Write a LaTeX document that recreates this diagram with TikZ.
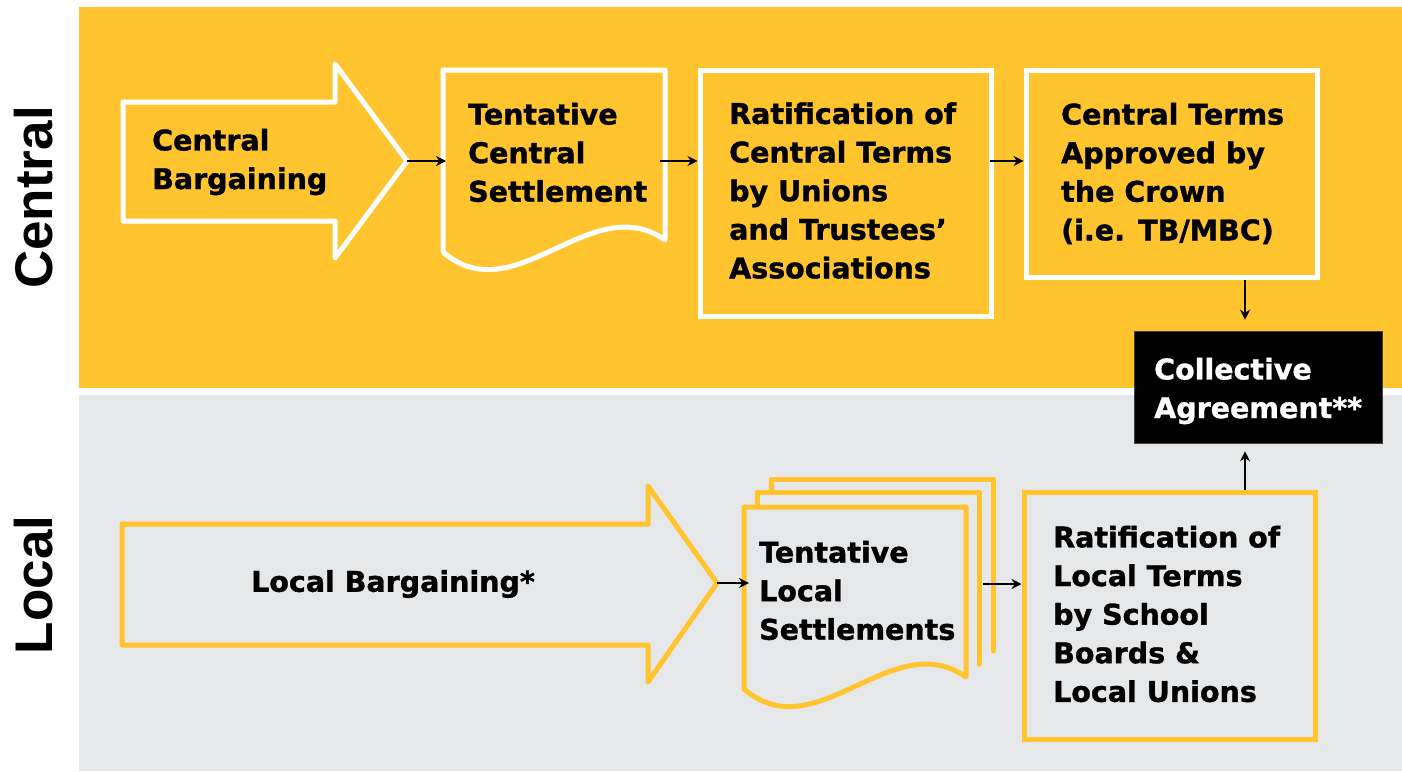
\documentclass[tikz,border=0pt]{standalone}
\usepackage{fontspec}
\setmainfont{DejaVu Sans}[BoldFeatures={FakeBold=1.2}]
\newfontfamily\bandfont{Liberation Sans}
\usetikzlibrary{arrows.meta}
\definecolor{bandgold}{RGB}{255,196,46}
\definecolor{bandgrey}{RGB}{230,231,232}
\begin{document}
\begin{tikzpicture}[x=1pt,y=-1pt,
  outline/.style={line width=5pt, line join=round, line cap=round},
  onwhite/.style={outline, draw=white, fill=bandgold},
  ongold/.style={outline, draw=bandgold, fill=bandgrey},
  stagebox/.style={rectangle, inner sep=0pt, line width=5pt},
  stagetext/.style={anchor=west, align=left, inner sep=0pt,
    font=\bfseries\fontsize{28.5}{38.6}\selectfont},
  conn/.style={line width=1.8pt, -{Stealth[length=10pt,width=10pt]}},
  bandname/.style={anchor=base, rotate=90, inner sep=0pt,
    font=\bandfont\bfseries\fontsize{53}{53}\selectfont},
  page/.pic={\path[pic actions] (0,0) -- (222,0) -- (222,170)
    .. controls (148,118) and (72,244) .. (0,182) -- cycle;}]

\path[use as bounding box] (0,0) rectangle (1402,771);
\fill[white] (0,0) rectangle (1402,771);

% the two bands
\fill[bandgold] (79,7) rectangle (1402,388);
\fill[bandgrey] (79,395) rectangle (1402,771);
\node[bandname] (central) at (52,197.5) {Central};
\node[bandname] (local) at (52,585) {Local};

% ---- central track ----
\draw[onwhite] (123,102) -- (335,102) -- (335,64) -- (407,161)
  -- (335,258) -- (335,221) -- (123,221) -- cycle;
\coordinate (cbtip) at (407,161);

\pic[onwhite] at (443,70) {page};
\coordinate (tcsin) at (446,161);
\coordinate (tcsout) at (660,161);

\node[stagebox, draw=white, fill=bandgold, minimum width=291pt, minimum height=246pt]
  (ratc) at (845.5,193) {};
\node[stagebox, draw=white, fill=bandgold, minimum width=291pt, minimum height=207pt]
  (terms) at (1171.5,173.5) {};

% ---- outcome ----
\node[rectangle, fill=black, draw=black!75, line width=0.6pt, inner sep=0pt,
  minimum width=248pt, minimum height=112pt] (agree) at (1258,387) {};
\coordinate (dropx) at (1245,0);

% ---- local track ----
\draw[ongold] (122,524) -- (648,524) -- (648,486) -- (717,583)
  -- (648,682) -- (648,645) -- (122,645) -- cycle;
\coordinate (lbtip) at (717,583);

% stacked settlement pages
\draw[outline, draw=bandgold] (771,560) -- (771,479) -- (993,479) -- (993,651);
\fill[bandgrey] (757,492) rectangle (979,664);
\draw[outline, draw=bandgold] (757,560) -- (757,492) -- (979,492) -- (979,664);
\pic[ongold] at (744,507) {page};
\coordinate (lsin) at (749,583);
\coordinate (lsout) at (983,584);

\node[stagebox, draw=bandgold, fill=bandgrey, minimum width=291pt, minimum height=247pt]
  (lrat) at (1169.5,615.5) {};

% ---- texts ----
\node[stagetext] (cbtext) at (152,162) {Central\\Bargaining};
\node[stagetext] (tcstext) at (468,152.5) {Tentative\\Central\\Settlement};
\node[stagetext] (ratctext) at (729,190.5) {Ratification of\\Central Terms\\by Unions\\and Trustees’\\Associations};
\node[stagetext] (termstext) at (1061,173.5) {Central Terms\\Approved by\\the Crown\\(i.e. TB/MBC)};
\node[stagetext, text=white] (agreetext) at (1154,391) {Collective\\Agreement**};
\node[stagetext] (lbtext) at (251,584) {Local Bargaining*};
\node[stagetext] (lstext) at (759,590.5) {Tentative\\Local\\Settlements};
\node[stagetext] (lrattext) at (1053,614) {Ratification of\\Local Terms\\by School\\Boards \&\\Local Unions};

% ---- connectors ----
\draw[conn] (cbtip) -- (tcsin);
\draw[conn] (tcsout) -- (tcsout -| ratc.west);
\draw[conn] ([xshift=-4pt]tcsout -| ratc.east) -- (tcsout -| terms.west);
\draw[conn, shorten >=11pt] (terms.south -| dropx) -- (agree.north -| dropx);
\draw[conn, shorten >=8pt] (lrat.north -| dropx) -- (agree.south -| dropx);
\draw[conn] (lbtip) -- (lsin);
\draw[conn] (lsout) -- (lsout -| lrat.west);
\end{tikzpicture}
\end{document}
